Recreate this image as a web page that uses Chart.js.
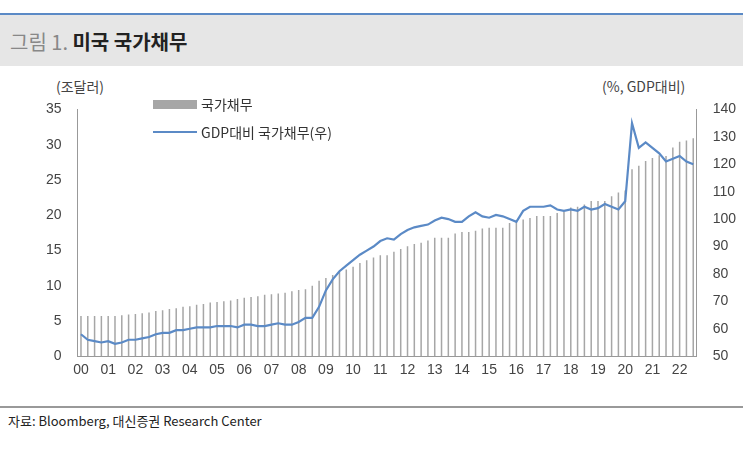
<!DOCTYPE html>
<html><head><meta charset="utf-8">
<script src="https://cdn.jsdelivr.net/npm/chart.js@4"></script>
<style>
  body { margin:0; width:743px; height:451px; background:#fff; font-family:"Noto Sans CJK KR","Noto Sans",sans-serif; position:relative; overflow:hidden; }
  .topline { position:absolute; left:0; top:13px; width:743px; height:2px; background:#5b8ac6; }
  .band { position:absolute; left:0; top:15px; width:743px; height:51px; background:#e6e6e6; }
  .title { position:absolute; left:10px; top:27px; font-size:20px; color:#222; }
  .title .n { color:#888; }
  .unitL { position:absolute; left:56px; top:76px; font-size:14px; color:#444; }
  .unitR { position:absolute; left:602px; top:76px; font-size:14px; color:#444; }
  .legend { position:absolute; left:153px; top:90px; font-size:14px; color:#333; }
  .legend div { height:28px; display:flex; align-items:center; }
  .legend span.sw { display:inline-block; width:44px; margin-right:4px; }
  .bottomline { position:absolute; left:0; top:406px; width:743px; height:2px; background:#999; }
  .src { position:absolute; left:8px; top:411px; font-size:13px; color:#222; }
  #wrap { position:absolute; left:38px; top:93px; width:706px; height:292px; }
</style></head>
<body>
<div class="topline"></div><div class="band"></div>
<div class="title"><span class="n">그림 1.</span> <b>미국 국가채무</b></div>
<div class="unitL">(조달러)</div>
<div class="unitR">(%, GDP대비)</div>
<div id="wrap"><canvas id="c"></canvas></div>
<div class="legend">
  <div><span class="sw" style="height:9px;background:#a6a6a6"></span>국가채무</div>
  <div><span class="sw" style="height:2px;background:#5b8ac6"></span>GDP대비 국가채무(우)</div>
</div>
<div class="bottomline"></div>
<div class="src">자료: Bloomberg, 대신증권 Research Center</div>
<script>
const years = ["00","01","02","03","04","05","06","07","08","09","10","11","12","13","14","15","16","17","18","19","20","21","22"];
const debt = [
  5.7,5.7,5.7,5.7, 5.7,5.7,5.8,5.9, 6.0,6.1,6.2,6.4, 6.5,6.7,6.8,7.0,
  7.1,7.3,7.4,7.6, 7.7,7.8,7.9,8.1, 8.3,8.4,8.5,8.7, 8.8,8.9,9.0,9.2,
  9.4,9.5,10.0,10.7, 11.1,11.5,11.9,12.3, 12.7,13.2,13.6,14.0, 14.3,14.3,14.8,15.2,
  15.6,15.9,16.1,16.4, 16.8,16.8,16.8,17.4, 17.6,17.6,17.8,18.1, 18.2,18.2,18.2,18.9,
  19.3,19.4,19.6,19.9, 19.9,19.9,20.3,20.5, 21.1,21.2,21.5,22.0, 22.0,22.0,22.7,23.2,
  23.5,26.5,27.0,27.7, 28.1,28.5,28.4,29.6, 30.4,30.6,30.9
];
const debtToGdp = [
  58,56,55.5,55, 55.5,54.5,55,56, 56,56.5,57,58, 58.5,58.5,59.5,59.5,
  60,60.5,60.5,60.5, 61,61,61,60.5, 61.5,61.5,61,61, 61.5,62,61.5,61.5,
  62.5,64,64,68, 74,78,81,83, 85,87,88.5,90, 92,93,92.5,94.5,
  96,97,97.5,98, 99.5,100.5,100,99, 99,101,102.5,101, 100.5,101.5,101,100,
  99,103,104.5,104.5, 104.5,105,103.5,103, 103.5,103,104.5,103.5, 104,105.5,104.5,103.5,
  106.5,135,126,128, 126,124,121,122, 123,121,120
];
const labels = debt.map((_, i) => i % 4 === 0 ? years[i / 4] : "");
const tickFont = { family: "Liberation Sans, Arial, sans-serif", size: 14 };

new Chart(document.getElementById("c"), {
  data: {
    labels,
    datasets: [
      { type: "line", data: debtToGdp, yAxisID: "y1", borderColor: "#5b8ac6", borderWidth: 2.2, pointRadius: 0, tension: 0, order: 0 },
      { type: "bar", data: debt, yAxisID: "y", backgroundColor: "#a6a6a6", maxBarThickness: 1.5, order: 1 },
    ],
  },
  options: {
    responsive: true,
    maintainAspectRatio: false,
    animation: false,
    plugins: { legend: { display: false }, tooltip: { enabled: false } },
    layout: { padding: 0 },
    scales: {
      x: {
        grid: { display: false, drawTicks: false },
        border: { color: "#999" },
        ticks: { autoSkip: false, maxRotation: 0, color: "#444", font: tickFont, padding: 6 },
      },
      y: {
        position: "left", min: 0, max: 35,
        grid: { display: false },
        border: { color: "#999" },
        ticks: { stepSize: 5, color: "#444", font: tickFont, padding: 8 },
      },
      y1: {
        position: "right", min: 50, max: 140,
        grid: { display: false },
        border: { color: "#999" },
        ticks: { stepSize: 10, color: "#444", font: tickFont, padding: 8 },
      },
    },
  },
});
</script>
</body></html>
